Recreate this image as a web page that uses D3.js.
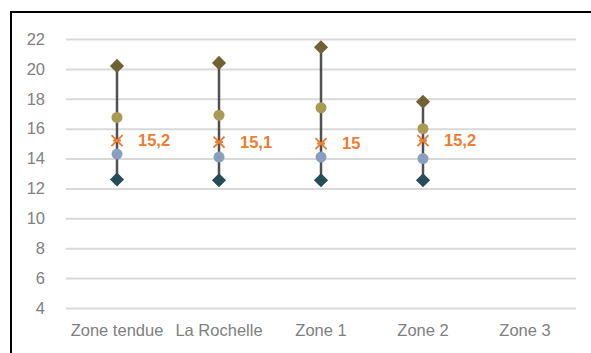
<!DOCTYPE html>
<html><head><meta charset="utf-8">
<script src="https://cdn.jsdelivr.net/npm/d3@7"></script>
<style>body{margin:0;background:#fff}svg{display:block}</style>
</head><body>
<script>
const categories = ["Zone tendue", "La Rochelle", "Zone 1", "Zone 2", "Zone 3"];
const highValues = [20.2, 20.4, 21.45, 17.8, null];
const upperValues = [16.75, 16.9, 17.4, 16.0, null];
const meanValues = [15.2, 15.1, 15.0, 15.2, null];
const meanLabels = ["15,2", "15,1", "15", "15,2", null];
const lowerValues = [14.3, 14.1, 14.1, 14.0, null];
const lowValues = [12.6, 12.55, 12.55, 12.55, null];
const yTicks = [4, 6, 8, 10, 12, 14, 16, 18, 20, 22];

const W = 591, H = 353;
const svg = d3.select("body").append("svg").attr("width", W).attr("height", H);
svg.append("rect").attr("x", 11).attr("y", 12).attr("width", W).attr("height", H)
  .attr("fill", "none").attr("stroke", "#000").attr("stroke-width", 2);

const x = d3.scaleBand().domain(categories).range([66, 576]);
const y = d3.scaleLinear().domain([4, 22]).range([308, 39]);
const font = "'Liberation Sans', Arial, sans-serif";

const yAxis = svg.append("g").attr("transform", "translate(66,0)")
  .call(d3.axisLeft(y).tickValues(yTicks).tickSize(-510).tickPadding(21));
yAxis.select(".domain").remove();
yAxis.selectAll(".tick line").attr("stroke", "#d9d9d9").attr("stroke-width", 2);
yAxis.selectAll(".tick text").attr("fill", "#808080").style("font-family", font).style("font-size", "16.5px");

const xAxis = svg.append("g").attr("transform", "translate(0,308)")
  .call(d3.axisBottom(x).tickSize(0).tickPadding(16));
xAxis.select(".domain").remove();
xAxis.selectAll(".tick text").attr("fill", "#808080").style("font-family", font).style("font-size", "16.5px");

const idx = d3.range(categories.length).filter(i => highValues[i] != null);
const cx = i => x(categories[i]) + x.bandwidth() / 2;

svg.append("g").selectAll("line").data(idx).join("line")
  .attr("x1", cx).attr("x2", cx)
  .attr("y1", i => y(lowValues[i])).attr("y2", i => y(highValues[i]))
  .attr("stroke", "#505050").attr("stroke-width", 2.5);

const diamond = d3.symbol().type(d3.symbolSquare).size(100)();
function diamonds(vals, color) {
  svg.append("g").selectAll("path").data(idx).join("path")
    .attr("d", diamond)
    .attr("transform", i => `translate(${cx(i)},${y(vals[i])}) rotate(45)`)
    .attr("fill", color);
}
function circles(vals, color) {
  svg.append("g").selectAll("circle").data(idx).join("circle")
    .attr("cx", cx).attr("cy", i => y(vals[i])).attr("r", 5.5).attr("fill", color);
}
diamonds(highValues, "#6f6235");
diamonds(lowValues, "#274b58");
circles(upperValues, "#a99b54");
circles(lowerValues, "#8a9fbd");

svg.append("g").selectAll("path").data(idx).join("path")
  .attr("d", "M-5.5,-5.5L5.5,5.5M-5.5,5.5L5.5,-5.5M-4,0L4,0")
  .attr("transform", i => `translate(${cx(i)},${y(meanValues[i])})`)
  .attr("stroke", "#ed7d31").attr("stroke-width", 2).attr("fill", "none");

svg.append("g").selectAll("text").data(idx).join("text")
  .attr("x", i => cx(i) + 21).attr("y", i => y(meanValues[i]))
  .attr("dy", "0.35em")
  .attr("fill", "#ed7d31").style("font-family", font).style("font-weight", "bold").style("font-size", "16.5px")
  .text(i => meanLabels[i]);
</script>
</body></html>
